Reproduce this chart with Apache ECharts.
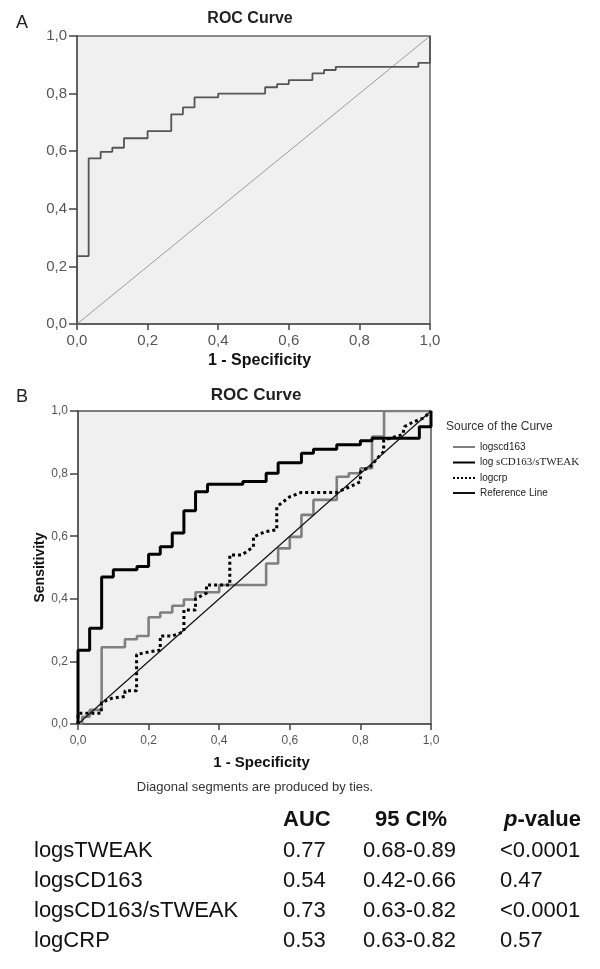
<!DOCTYPE html>
<html><head><meta charset="utf-8">
<script src="https://cdn.jsdelivr.net/npm/echarts@6/dist/echarts.min.js"></script>
<style>html,body{margin:0;padding:0;background:#fff}#c{width:600px;height:969px}</style>
</head><body><div id="c"></div>
<script>
// ---- data ----
const tickLabels = ['0,0', '0,2', '0,4', '0,6', '0,8', '1,0'];

// Panel A: logsTWEAK ROC curve (step points: 1-specificity, sensitivity)
const aFpr = [0, 0, 0.033, 0.067, 0.1, 0.133, 0.2, 0.267, 0.3, 0.333, 0.4, 0.533, 0.567, 0.6, 0.667, 0.7, 0.733, 0.967, 1];
const aTpr = [0, 0.236, 0.575, 0.598, 0.612, 0.645, 0.670, 0.728, 0.752, 0.787, 0.80, 0.822, 0.833, 0.847, 0.870, 0.882, 0.893, 0.907, 1];

// Panel B: logscd163 (step points)
const bCd163Fpr = [0, 0.012, 0.033, 0.067, 0.133, 0.167, 0.2, 0.233, 0.267, 0.3, 0.333, 0.4, 0.533, 0.567, 0.6, 0.633, 0.667, 0.733, 0.767, 0.8, 0.833, 0.867, 1];
const bCd163Tpr = [0, 0.023, 0.045, 0.245, 0.271, 0.281, 0.341, 0.356, 0.378, 0.398, 0.421, 0.444, 0.513, 0.561, 0.598, 0.668, 0.716, 0.790, 0.801, 0.817, 0.918, 1.0, 1];

// Panel B: log sCD163/sTWEAK (step points)
const bRatioFpr = [0, 0, 0.033, 0.067, 0.1, 0.167, 0.2, 0.233, 0.267, 0.3, 0.333, 0.367, 0.467, 0.533, 0.567, 0.633, 0.667, 0.733, 0.8, 0.833, 0.967, 1];
const bRatioTpr = [0, 0.236, 0.306, 0.470, 0.493, 0.503, 0.542, 0.566, 0.61, 0.681, 0.742, 0.766, 0.775, 0.801, 0.835, 0.865, 0.878, 0.892, 0.905, 0.913, 0.95, 1];

// Panel B: logcrp (vertices, includes tie diagonals)
const bCrpFpr = [0, 0, 0.066, 0.066, 0.095, 0.133, 0.133, 0.166, 0.166, 0.2, 0.233, 0.233, 0.267, 0.3, 0.3, 0.333, 0.333, 0.364, 0.364, 0.43, 0.43, 0.464, 0.497, 0.497, 0.53, 0.563, 0.563, 0.6, 0.633, 0.733, 0.77, 0.8, 0.8, 0.828, 0.856, 0.866, 0.866, 0.92, 0.925, 0.95, 0.98, 1];
const bCrpTpr = [0, 0.034, 0.034, 0.068, 0.082, 0.088, 0.106, 0.106, 0.222, 0.230, 0.236, 0.281, 0.281, 0.295, 0.364, 0.364, 0.40, 0.418, 0.444, 0.444, 0.54, 0.54, 0.566, 0.598, 0.614, 0.621, 0.694, 0.726, 0.74, 0.74, 0.758, 0.774, 0.806, 0.822, 0.859, 0.87, 0.907, 0.925, 0.95, 0.965, 0.978, 1];

// Reference line
const refX = [0, 1];
const refY = [0, 1];

// Table
const tableHeaders = ['AUC', '95 CI%', 'p-value'];
const tableNames = ['logsTWEAK', 'logsCD163', 'logsCD163/sTWEAK', 'logCRP'];
const tableAuc = ['0.77', '0.54', '0.73', '0.53'];
const tableCi = ['0.68-0.89', '0.42-0.66', '0.63-0.82', '0.63-0.82'];
const tableP = ['<0.0001', '0.47', '<0.0001', '0.57'];

// ---- chart ----
const FONT = "'Liberation Sans', Arial, sans-serif";
const pairs = (xs, ys) => xs.map((x, i) => [x, ys[i]]);
const fmt = v => tickLabels[Math.round(v / 0.2)];

function xAxis(gridIndex, fs, name, nameFs, nameGap, shift, margin) {
  return {
    type: 'value', gridIndex, min: 0, max: 1, interval: 0.2,
    name, nameLocation: 'middle', nameGap,
    nameTextStyle: { fontFamily: FONT, fontWeight: 'bold', fontSize: nameFs, color: '#111', padding: [0, 0, 0, shift] },
    axisLine: { show: true, lineStyle: { color: '#555', width: 1.5 } },
    axisTick: { show: true, length: 6, lineStyle: { color: '#444', width: 1.5 } },
    axisLabel: { formatter: fmt, fontFamily: FONT, fontSize: fs, color: '#555', margin },
    splitLine: { show: false }
  };
}
function yAxis(gridIndex, fs, name, nameFs, nameGap) {
  return {
    type: 'value', gridIndex, min: 0, max: 1, interval: 0.2,
    name, nameLocation: 'middle', nameGap, nameMoveOverlap: false,
    nameTextStyle: { fontFamily: FONT, fontWeight: 'bold', fontSize: nameFs, color: '#111' },
    axisLine: { show: true, lineStyle: { color: '#555', width: 1.5 } },
    axisTick: { show: true, length: 8, lineStyle: { color: '#444', width: 1.5 } },
    axisLabel: { formatter: fmt, fontFamily: FONT, fontSize: fs, color: '#555', margin: 10 },
    splitLine: { show: false }
  };
}

const tableGraphics = [];
const colX = [283, 375, 504];
const headerY = 820;
tableGraphics.push({ type: 'text', x: colX[0], y: headerY, style: { text: tableHeaders[0], fontFamily: FONT, fontSize: 22, fontWeight: 'bold', fill: '#111', verticalAlign: 'middle' } });
tableGraphics.push({ type: 'text', x: colX[1], y: headerY, style: { text: tableHeaders[1], fontFamily: FONT, fontSize: 22, fontWeight: 'bold', fill: '#111', verticalAlign: 'middle' } });
tableGraphics.push({ type: 'text', x: colX[2], y: headerY, style: {
  text: '{i|' + tableHeaders[2].split('-')[0] + '}{n|-' + tableHeaders[2].split('-')[1] + '}',
  verticalAlign: 'middle',
  rich: {
    i: { fontFamily: FONT, fontSize: 22, fontWeight: 'bold', fontStyle: 'italic', fill: '#111' },
    n: { fontFamily: FONT, fontSize: 22, fontWeight: 'bold', fill: '#111' }
  } } });
const rowY = [851, 881, 911, 941];
tableNames.forEach((n, i) => {
  const y = rowY[i];
  const st = { fontFamily: FONT, fontSize: 22, fill: '#111', verticalAlign: 'middle' };
  tableGraphics.push({ type: 'text', x: 34, y, style: Object.assign({ text: n }, st) });
  tableGraphics.push({ type: 'text', x: 283, y, style: Object.assign({ text: tableAuc[i] }, st) });
  tableGraphics.push({ type: 'text', x: 363, y, style: Object.assign({ text: tableCi[i] }, st) });
  tableGraphics.push({ type: 'text', x: 500, y, style: Object.assign({ text: tableP[i] }, st) });
});

const hiddenSym = { opacity: 0 };
const chart = echarts.init(document.getElementById('c'), null, { renderer: 'canvas' });
chart.setOption({
  animation: false,
  backgroundColor: '#ffffff',
  title: [
    { text: 'A', left: 11, top: 9, textStyle: { fontFamily: FONT, fontSize: 18, fontWeight: 'normal', color: '#222' } },
    { text: 'ROC Curve', left: 245, top: 6, textAlign: 'center', textStyle: { fontFamily: FONT, fontSize: 16, fontWeight: 'bold', color: '#222' } },
    { text: 'B', left: 11, top: 383, textStyle: { fontFamily: FONT, fontSize: 18, fontWeight: 'normal', color: '#222' } },
    { text: 'ROC Curve', left: 251, top: 382, textAlign: 'center', textStyle: { fontFamily: FONT, fontSize: 17, fontWeight: 'bold', color: '#222' } },
    { text: 'Source of the Curve', left: 441, top: 416, textStyle: { fontFamily: FONT, fontSize: 12, fontWeight: 'normal', color: '#333' } },
    { text: 'Diagonal segments are produced by ties.', left: 250, top: 776, textAlign: 'center', textStyle: { fontFamily: FONT, fontSize: 13, fontWeight: 'normal', color: '#333' } }
  ],
  grid: [
    { left: 77, right: 170, top: 36, bottom: 645, show: true, backgroundColor: '#f0f0f0', borderColor: '#666', borderWidth: 1.5 },
    { left: 78, right: 169, top: 411, bottom: 245, show: true, backgroundColor: '#f0f0f0', borderColor: '#555', borderWidth: 1.5 }
  ],
  xAxis: [
    xAxis(0, 15, '1 - Specificity', 16, 29, 12, 9),
    xAxis(1, 12, '1 - Specificity', 15, 31, 14, 11)
  ],
  yAxis: [
    yAxis(0, 15, '', 14, 30),
    yAxis(1, 12, 'Sensitivity', 14, 31)
  ],
  legend: {
    orient: 'vertical', left: 447, top: 437,
    itemWidth: 22, itemHeight: 10, itemGap: 5,
    itemStyle: { opacity: 0 },
    data: ['logscd163', 'log sCD163/sTWEAK', 'logcrp', 'Reference Line'],
    formatter: name => {
      if (name.indexOf('log s') === 0) {
        const parts = name.split(' ');
        return '{a|' + parts[0] + '} {b|' + parts[1] + '}';
      }
      return name;
    },
    textStyle: {
      fontFamily: FONT, fontSize: 10, color: '#222',
      rich: {
        a: { fontFamily: FONT, fontSize: 10, color: '#222' },
        b: { fontFamily: "'Liberation Serif', 'DejaVu Serif', serif", fontSize: 11, color: '#222' }
      }
    }
  },
  series: [
    { type: 'line', xAxisIndex: 0, yAxisIndex: 0, data: pairs(refX, refY), symbol: 'none', lineStyle: { color: '#9a9a9a', width: 1 } },
    { type: 'line', xAxisIndex: 0, yAxisIndex: 0, data: pairs(aFpr, aTpr), step: 'end', symbol: 'none', lineStyle: { color: '#555', width: 1.8 } },
    { name: 'logscd163', type: 'line', xAxisIndex: 1, yAxisIndex: 1, data: pairs(bCd163Fpr, bCd163Tpr), step: 'end', symbol: 'none', lineStyle: { color: '#7f7f7f', width: 2.6 }, itemStyle: Object.assign({ color: '#7f7f7f' }, hiddenSym) },
    { name: 'log sCD163/sTWEAK', type: 'line', xAxisIndex: 1, yAxisIndex: 1, data: pairs(bRatioFpr, bRatioTpr), step: 'end', symbol: 'none', lineStyle: { color: '#000', width: 3 }, itemStyle: Object.assign({ color: '#000' }, hiddenSym) },
    { name: 'logcrp', type: 'line', xAxisIndex: 1, yAxisIndex: 1, data: pairs(bCrpFpr, bCrpTpr), symbol: 'none', lineStyle: { color: '#000', width: 3, type: 'dotted' }, itemStyle: Object.assign({ color: '#000' }, hiddenSym) },
    { name: 'Reference Line', type: 'line', xAxisIndex: 1, yAxisIndex: 1, data: pairs(refX, refY), symbol: 'none', lineStyle: { color: '#111', width: 1.2 }, itemStyle: Object.assign({ color: '#111' }, hiddenSym) }
  ],
  graphic: tableGraphics
});
</script>
</body></html>
